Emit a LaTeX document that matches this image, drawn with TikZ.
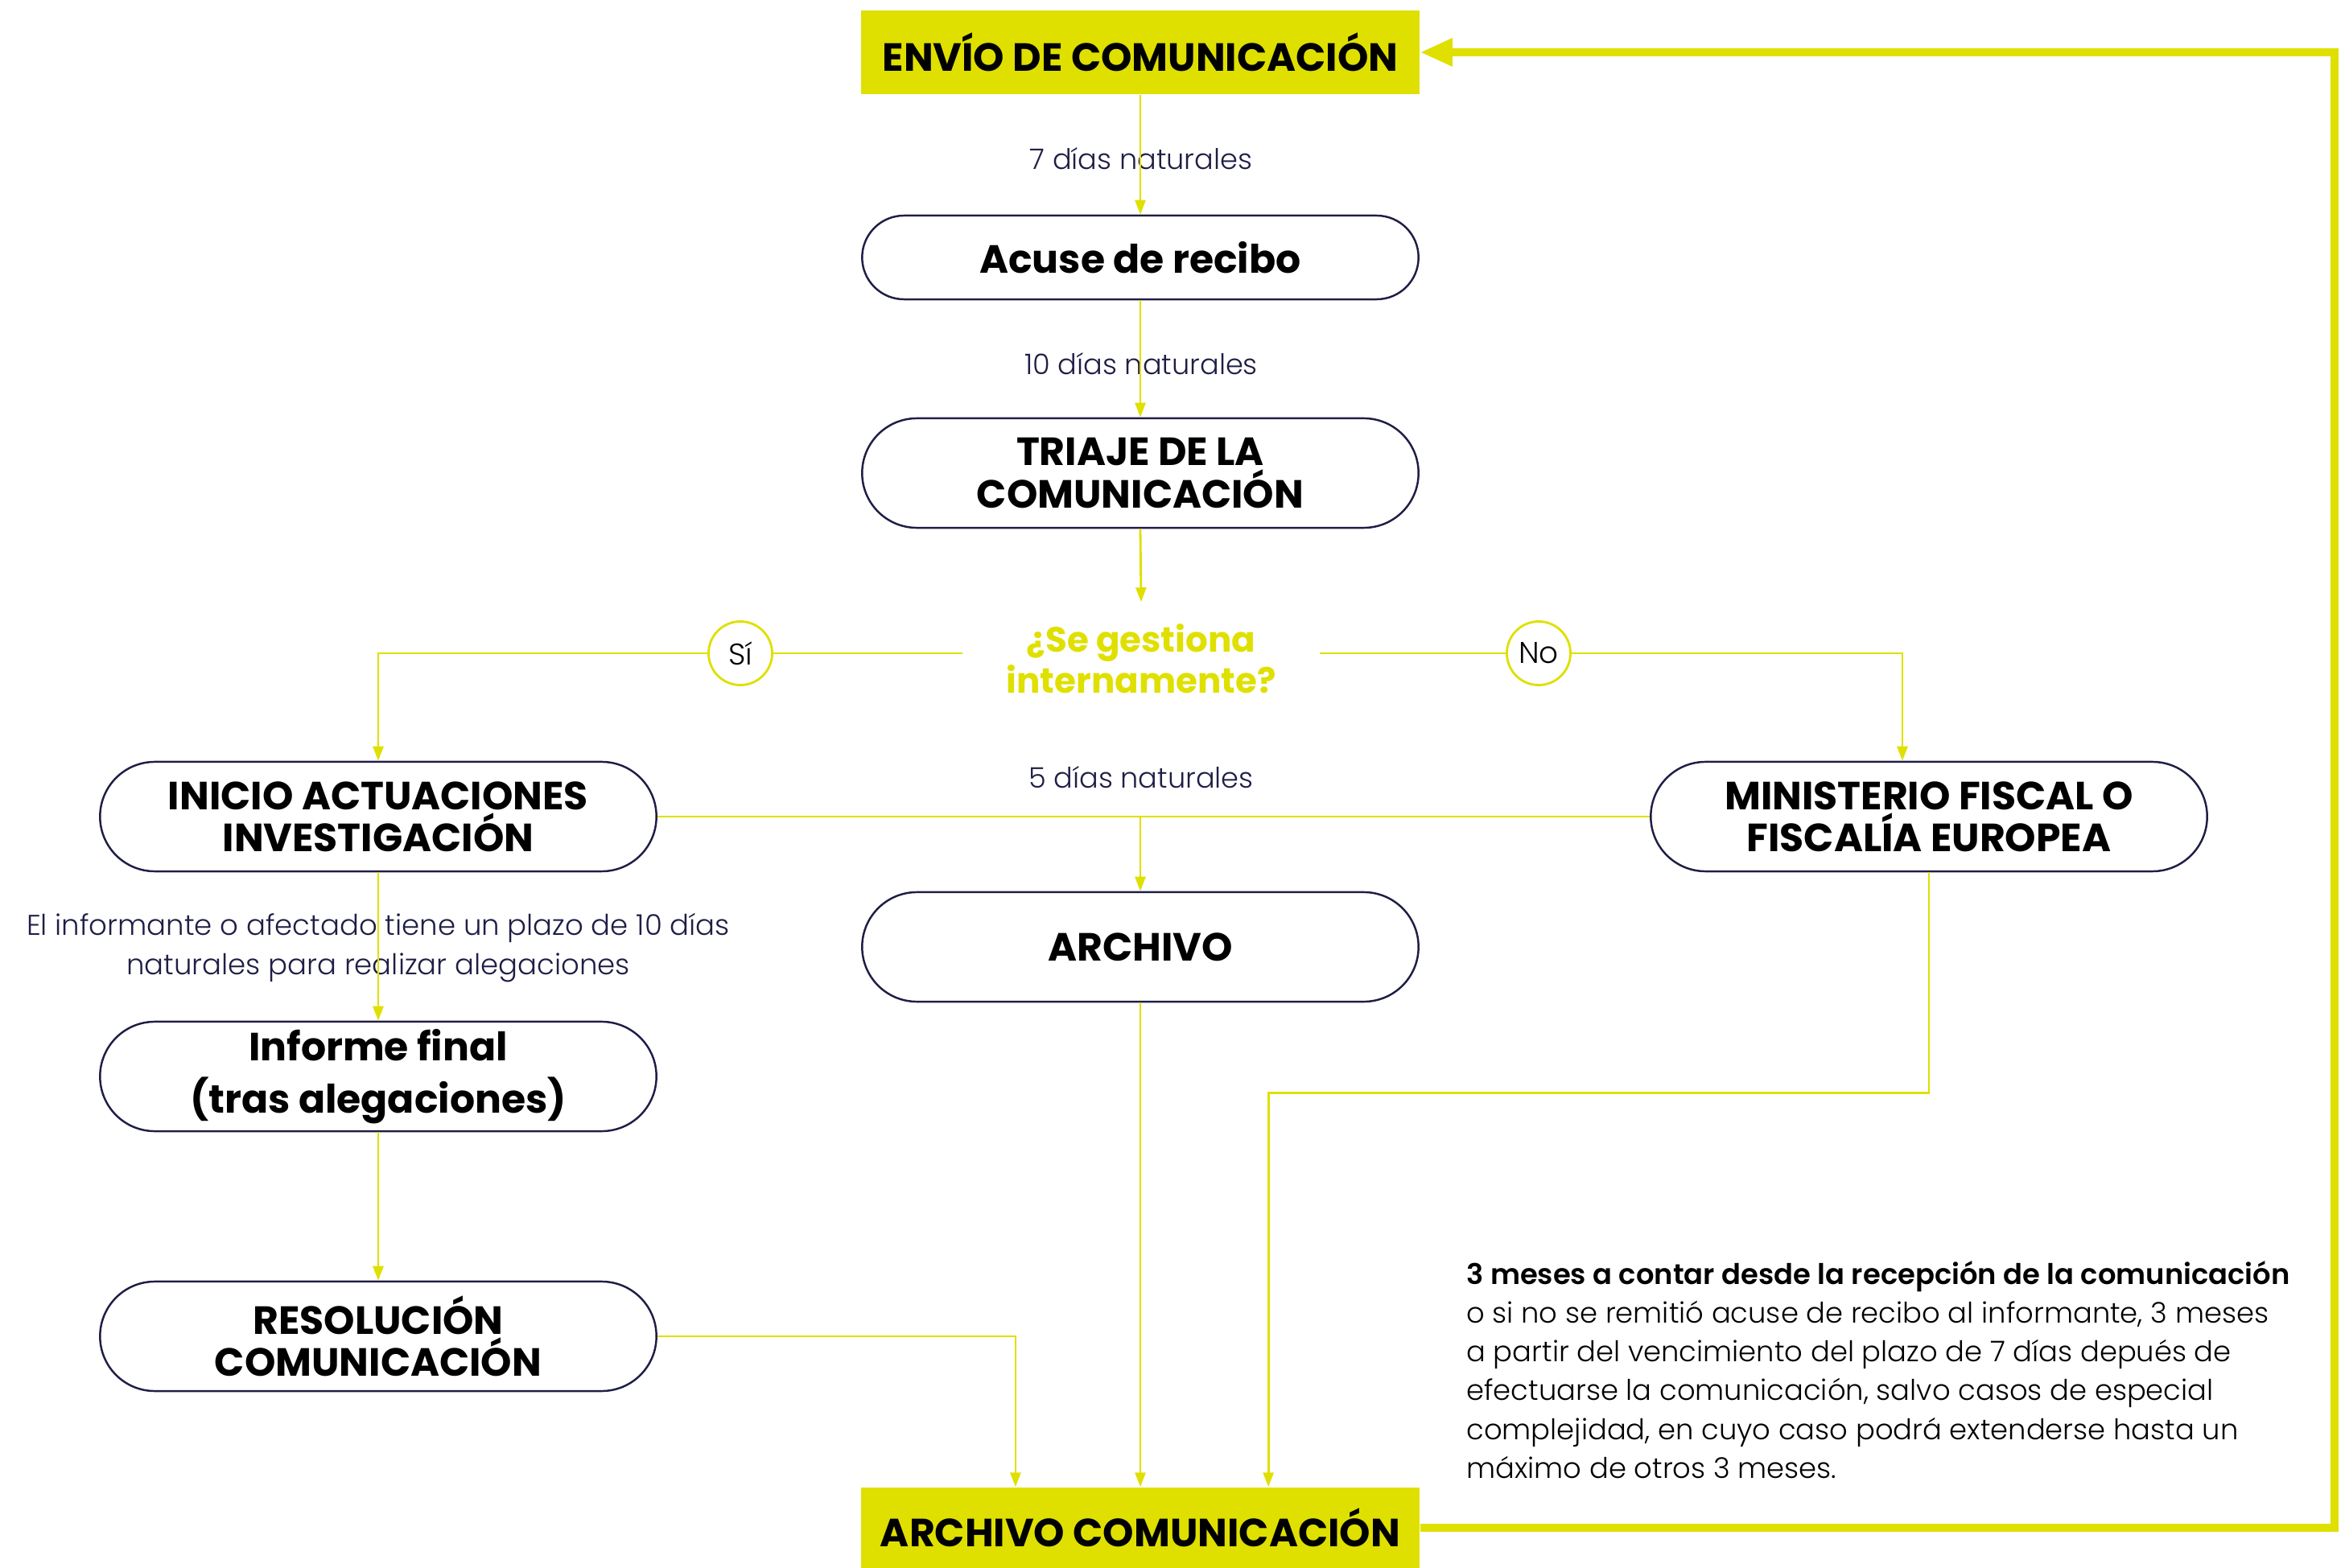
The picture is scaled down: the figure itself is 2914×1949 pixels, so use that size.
\documentclass[tikz,border=0pt]{standalone}
\usepackage{fontspec}
\setmainfont{Poppins}
\newfontfamily\ligera{Poppins}[UprightFont=* Light, BoldFont=* SemiBold]
\usetikzlibrary{arrows.meta, shapes.misc, positioning}
\definecolor{amarillo}{HTML}{DFE000}
\definecolor{marino}{HTML}{1E1E46}

\begin{document}
\begin{tikzpicture}[x=0.01cm, y=-0.01cm,
		titulo/.style={font=\fontsize{13.9}{14.8}\selectfont\bfseries},
		pill/.style={rounded rectangle, draw=marino, line width=0.7pt, fill=white, minimum width=6.91cm, minimum height=1.36cm, inner sep=0pt, align=center, titulo},
		hl/.style={rectangle, fill=amarillo, minimum width=6.94cm, minimum height=1.04cm, inner sep=0pt, titulo},
		linea/.style={draw=amarillo, line width=0.8pt},
		flecha/.style={linea, -{Triangle[length=0.18cm, width=0.13cm]}},
		grueso/.style={draw=amarillo, line width=2.6pt, -{Triangle[length=0.4cm, width=0.33cm]}},
		nota/.style={text=marino, font=\ligera\fontsize{10}{14}\selectfont, align=center},
		opcion/.style={circle, draw=amarillo, line width=0.8pt, fill=white, minimum size=0.79cm, inner sep=0pt, font=\ligera\fontsize{10.6}{12}\selectfont}]
	\useasboundingbox (0,0) rectangle (2914,1949);

	\node[hl] (envio) at (1417,65) {ENVÍO DE COMUNICACIÓN};
	\node[pill, minimum height=1.04cm] (acuse) at (1417,320) {Acuse de recibo};
	\node[pill] (triaje) at (1417,588) {TRIAJE DE LA\\COMUNICACIÓN};
	\node[minimum width=4.42cm, minimum height=1.4cm, inner sep=0pt, align=center, text=amarillo, font=\fontsize{12.4}{14.6}\selectfont\bfseries] (pregunta) at (1418,819) {¿Se gestiona\\internamente?};
	\node[opcion] (si) at (920,812) {Sí};
	\node[opcion] (no) at (1912,812) {No};
	\node[pill] (inicio) at (470,1015) {INICIO ACTUACIONES\\INVESTIGACIÓN};
	\node[pill] (ministerio) at (2397,1015) {MINISTERIO FISCAL O\\FISCALÍA EUROPEA};
	\node[pill] (archivo) at (1417,1177) {ARCHIVO};
	\node[pill, font=\fontsize{13.9}{18.5}\selectfont\bfseries] (informe) at (470,1338) {Informe final\\(tras alegaciones)};
	\node[pill] (resolucion) at (470,1661) {RESOLUCIÓN\\COMUNICACIÓN};
	\node[hl, minimum height=1cm] (archcom) at (1417,1899) {ARCHIVO COMUNICACIÓN};

	\node[nota] (siete) at (1418,197) {7 días naturales};
	\node[nota] (diez) at (1418,452) {10 días naturales};
	\node[nota] (cinco) at (1418,966) {5 días naturales};
	\node[nota, font=\ligera\fontsize{10.1}{14}\selectfont] (plazo) at (470,1178) {El informante o afectado tiene un plazo de 10 días\\naturales para realizar alegaciones};
	\node[anchor=north west, align=left, font=\ligera\fontsize{10.05}{13.7}\selectfont] (meses) at (1810,1555) {\textbf{3 meses a contar desde la recepción de la comunicación}\\o si no se remitió acuse de recibo al informante, 3 meses\\a partir del vencimiento del plazo de 7 días depués de\\efectuarse la comunicación, salvo casos de especial\\complejidad, en cuyo caso podrá extenderse hasta un\\máximo de otros 3 meses.};

	\coordinate (vuelta) at (2901,65);
	\coordinate (cruce) at (archivo.north |- inicio.east);

	\draw[flecha] (envio.south) -- (acuse.north);
	\draw[flecha] (acuse.south) -- (triaje.north);
	\draw[flecha] (triaje.south) -- (pregunta.north);
	\draw[linea] (si.east) -- (si.east -| pregunta.west);
	\draw[flecha] (si.west) -| (inicio.north);
	\draw[linea] (no.west) -- (no.west -| pregunta.east);
	\draw[flecha] (no.east) -| ([xshift=-0.33cm]ministerio.north);
	\draw[linea] (inicio.east) -- (ministerio.west);
	\draw[flecha] (cruce) -- (archivo.north);
	\draw[flecha] (inicio.south) -- (informe.north);
	\draw[flecha] (informe.south) -- (resolucion.north);
	\draw[flecha] (resolucion.east) -| ([xshift=-1.55cm]archcom.north);
	\draw[flecha] (archivo.south) -- (archcom.north);
	\draw[flecha] (ministerio.south) -- ++(0,274) -| ([xshift=1.59cm]archcom.north);
	\draw[grueso] (archcom.east) -| (vuelta) -- (envio.east);
\end{tikzpicture}
\end{document}
